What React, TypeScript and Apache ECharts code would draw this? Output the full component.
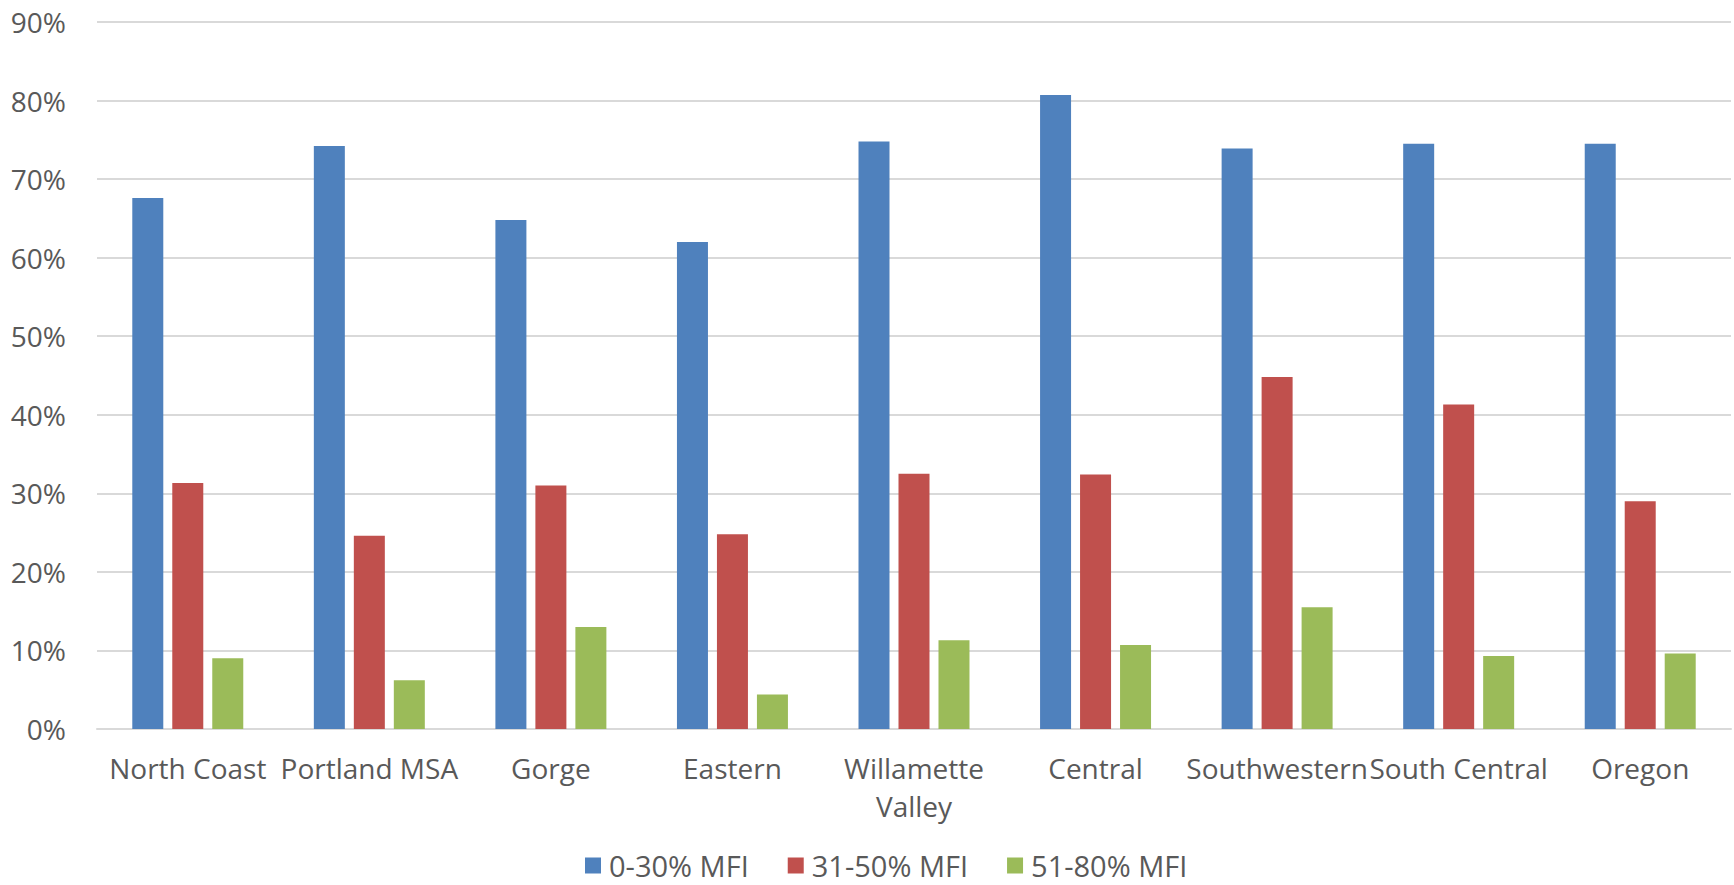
import React, { useEffect, useRef } from "react";
import * as echarts from "echarts";

const regions = [
  "North Coast",
  "Portland MSA",
  "Gorge",
  "Eastern",
  "Willamette\nValley",
  "Central",
  "Southwestern",
  "South Central",
  "Oregon",
];

const seriesNames = ["0-30% MFI", "31-50% MFI", "51-80% MFI"];

const mfi0to30 = [67.6, 74.2, 64.8, 62.0, 74.8, 80.7, 73.9, 74.5, 74.5];
const mfi31to50 = [31.3, 24.6, 31.0, 24.8, 32.5, 32.4, 44.8, 41.3, 29.0];
const mfi51to80 = [9.0, 6.2, 13.0, 4.4, 11.3, 10.7, 15.5, 9.3, 9.6];

const colors = ["#4F81BD", "#C0504D", "#9BBB59"];

const FONT = "'Open Sans', 'Noto Sans', sans-serif";
const TEXT_COLOR = "#595959";

export default function App() {
  const ref = useRef<HTMLDivElement>(null);

  useEffect(() => {
    if (!ref.current) return;
    const chart = echarts.init(ref.current, undefined, { renderer: "svg" });
    const values = [mfi0to30, mfi31to50, mfi51to80];

    chart.setOption({
      animation: false,
      backgroundColor: "#ffffff",
      color: colors,
      grid: { left: 97, right: 3, top: 22, bottom: 156, containLabel: false },
      legend: {
        data: seriesNames,
        top: 851,
        left: 585,
        padding: 0,
        itemWidth: 16,
        itemHeight: 16,
        itemGap: 39,
        icon: "rect",
        textStyle: {
          fontFamily: FONT,
          fontSize: 29,
          lineHeight: 26,
          color: TEXT_COLOR,
          padding: [0, 0, 0, 3],
        },
      },
      xAxis: {
        type: "category",
        data: regions,
        axisTick: { show: false },
        axisLine: { lineStyle: { color: "#D9D9D9", width: 2 } },
        axisLabel: {
          interval: 0,
          margin: 20,
          fontFamily: FONT,
          fontSize: 28,
          lineHeight: 38,
          color: TEXT_COLOR,
        },
      },
      yAxis: {
        type: "value",
        min: 0,
        max: 90,
        interval: 10,
        axisLine: { show: false },
        axisTick: { show: false },
        splitLine: { lineStyle: { color: "#D9D9D9", width: 2 } },
        axisLabel: {
          formatter: "{value}%",
          margin: 31,
          fontFamily: FONT,
          fontSize: 28,
          color: TEXT_COLOR,
        },
      },
      series: seriesNames.map((name, i) => ({
        name,
        type: "bar",
        data: values[i],
        barWidth: 31,
        barGap: "29%",
        barCategoryGap: "39%",
        itemStyle: { color: colors[i] },
      })),
    });

    return () => chart.dispose();
  }, []);

  return (
    <div
      ref={ref}
      style={{ position: "fixed", left: 0, top: 0, width: 1734, height: 885, background: "#fff" }}
    />
  );
}
